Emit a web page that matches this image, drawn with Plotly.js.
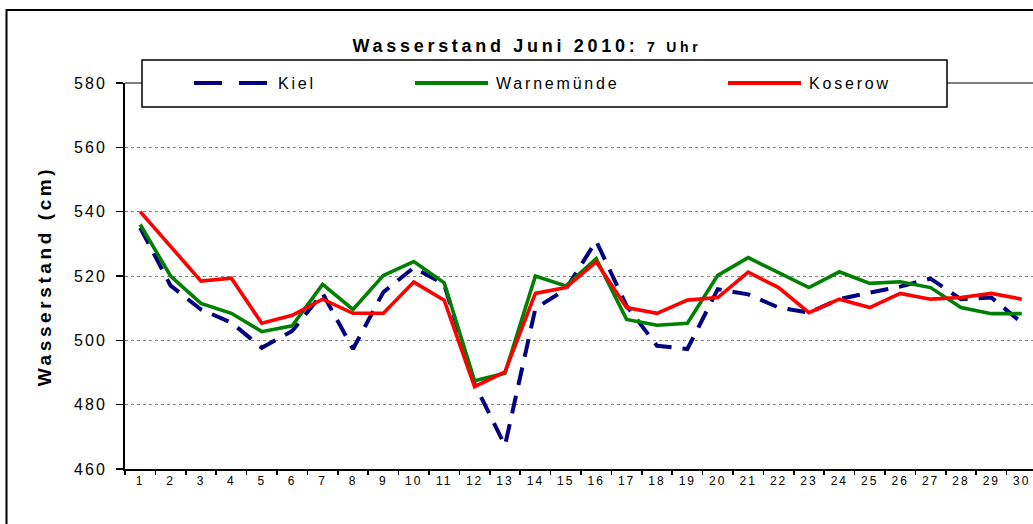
<!DOCTYPE html>
<html>
<head>
<meta charset="utf-8">
<script src="https://cdn.plot.ly/plotly-3.0.1.min.js"></script>
<style>
html,body{margin:0;padding:0;background:#ffffff;}
#chart{width:1033px;height:524px;}
.gtitle{letter-spacing:3.7px;}
.g-ytitle text{letter-spacing:3.6px;}
.ytick text{letter-spacing:2px;}
.xtick text{letter-spacing:2px;}
.annotation-text{letter-spacing:2.8px;}
</style>
</head>
<body>
<div id="chart"></div>
<script>
// ---- data ----
const days = ["1","2","3","4","5","6","7","8","9","10","11","12","13","14","15",
              "16","17","18","19","20","21","22","23","24","25","26","27","28","29","30"];
const seriesNames = ["Kiel", "Warnemünde", "Koserow"];
const kiel = [535, 517, 509.6, 505.5, 497.7, 502.9, 514.6, 497.3, 515, 522.6,
              517.4, 486.5, 467.3, 509.9, 515.9, 530.9, 510.7, 498.3, 497.3, 515.9,
              514.3, 510.2, 508.6, 512.8, 514.8, 516.7, 519.2, 512.8, 513.3, 505.5];
const warnemuende = [536, 520, 511.5, 508.4, 502.7, 504.5, 517.4, 509.6, 520.2, 524.5,
                     517.9, 487.4, 489.8, 520, 516.9, 525.4, 506.5, 504.7, 505.3, 520.2,
                     525.7, 521.2, 516.4, 521.3, 517.7, 518.2, 516.4, 510.2, 508.3, 508.3];
const koserow = [540, 529.3, 518.4, 519.3, 505.3, 507.8, 512.8, 508.4, 508.4, 518.1,
                 512.5, 485.6, 490.2, 514.6, 516.4, 524.4, 510.2, 508.4, 512.5, 513.3,
                 521.2, 516.4, 508.6, 512.8, 510.2, 514.6, 512.8, 513.3, 514.6, 512.8];
const yTicks = [460, 480, 500, 520, 540, 560, 580];

// ---- styles ----
const colors = ["#000080", "#008000", "#FF0000"];
const dashes = ["18px,11px", "solid", "solid"];
const legendDashes = ["28px,17px", "solid", "solid"];
const FONT = "Arial, 'Liberation Sans', sans-serif";

const W = 1033, H = 524;
const M = {l: 125, r: 0, t: 83, b: 55};
const plotW = W - M.l - M.r, plotH = H - M.t - M.b;
const px = x => (x - M.l) / plotW;          // pixel -> paper x
const py = y => (H - M.b - y) / plotH;      // pixel -> paper y

const values = [kiel, warnemuende, koserow];
const traces = values.map((v, i) => ({
  type: "scatter",
  mode: "lines",
  name: seriesNames[i],
  x: days,
  y: v,
  line: {color: colors[i], width: i === 0 ? 4 : 3.6, dash: dashes[i]},
  hoverinfo: "skip"
}));

// custom legend layout (pixel positions of the legend box contents)
const legendBox = {x0: 142, x1: 947, y0: 60, y1: 107, yc: 83};
const legendItems = [
  {lx0: 194, lx1: 267, tx: 276},
  {lx0: 415, lx1: 488, tx: 494},
  {lx0: 728, lx1: 801, tx: 807}
];

const shapes = [
  // outer chart border
  {type: "rect", xref: "paper", yref: "paper",
   x0: px(6.5), x1: px(1100), y0: py(600), y1: py(10),
   line: {color: "#000000", width: 2}, fillcolor: "rgba(0,0,0,0)", layer: "above"},
  // plot area top border
  {type: "line", xref: "paper", yref: "paper", x0: 0, x1: 1, y0: 1, y1: 1,
   line: {color: "#808080", width: 2}, layer: "above"},
  // legend box
  {type: "rect", xref: "paper", yref: "paper",
   x0: px(legendBox.x0), x1: px(legendBox.x1), y0: py(legendBox.y1), y1: py(legendBox.y0),
   line: {color: "#000000", width: 1.5}, fillcolor: "#ffffff", layer: "above"}
];
const annotations = [];
legendItems.forEach((it, i) => {
  shapes.push({type: "line", xref: "paper", yref: "paper",
    x0: px(it.lx0), x1: px(it.lx1), y0: py(legendBox.yc), y1: py(legendBox.yc),
    line: {color: colors[i], width: 4, dash: legendDashes[i]}, layer: "above"});
  annotations.push({xref: "paper", yref: "paper", x: px(it.tx), y: py(legendBox.yc),
    xanchor: "left", yanchor: "middle", showarrow: false, text: seriesNames[i],
    font: {family: FONT, size: 16, color: "#000000"}});
});

const layout = {
  width: W, height: H,
  margin: M,
  paper_bgcolor: "#ffffff",
  plot_bgcolor: "#ffffff",
  showlegend: false,
  title: {
    text: 'Wasserstand Juni 2010: <span style="font-size:14px">7 Uhr</span>',
    font: {family: FONT, size: 18, weight: "bold", color: "#000000"},
    xref: "container", yref: "container",
    x: 527 / W, y: 1 - 46 / H, xanchor: "center", yanchor: "middle"
  },
  xaxis: {
    type: "category",
    range: [-0.5, 29.37],
    showline: true, linecolor: "#000000", linewidth: 2,
    ticks: "outside", ticklen: 4, tickwidth: 1.5, tickcolor: "#000000",
    tickson: "boundaries",
    showgrid: false, zeroline: false,
    tickfont: {family: FONT, size: 12, color: "#000000"},
    fixedrange: true
  },
  yaxis: {
    range: [460, 580],
    tickmode: "array", tickvals: yTicks, ticktext: yTicks.map(String),
    showline: true, linecolor: "#000000", linewidth: 2,
    ticks: "outside", ticklen: 7, tickwidth: 1.5, tickcolor: "#000000",
    ticklabelstandoff: 6,
    showgrid: true, gridcolor: "#808080", gridwidth: 1, griddash: "dot",
    zeroline: false,
    tickfont: {family: FONT, size: 16, color: "#000000"},
    title: {text: "Wasserstand (cm)", standoff: 17,
            font: {family: FONT, size: 19, weight: "bold", color: "#000000"}},
    fixedrange: true
  },
  shapes: shapes,
  annotations: annotations
};

Plotly.newPlot("chart", traces, layout, {staticPlot: true, displayModeBar: false});
</script>
</body>
</html>
